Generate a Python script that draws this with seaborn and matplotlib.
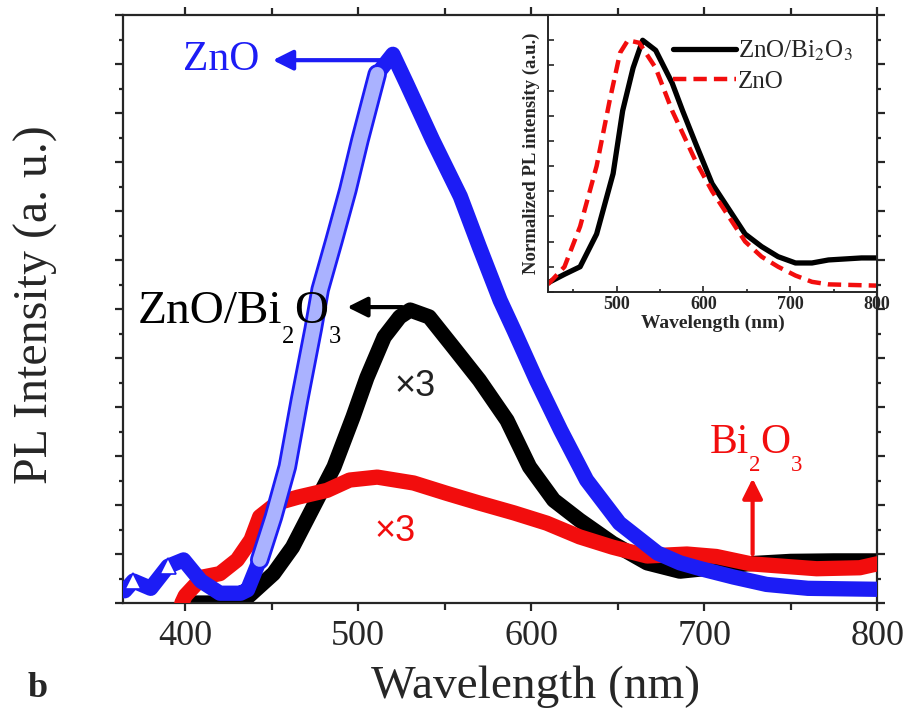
import numpy as np
import matplotlib
matplotlib.use("Agg")
import matplotlib.pyplot as plt
import matplotlib.patheffects as pe
import seaborn as sns
from matplotlib.ticker import MultipleLocator, NullFormatter
from matplotlib.transforms import IdentityTransform

# main panel: PL spectra (ZnO/Bi2O3 and Bi2O3 scaled x3)
zno_nm = [365, 370, 380, 390, 399, 409, 420, 432, 436, 443, 451, 459, 466, 474, 478,
          486, 494, 501, 511, 520, 528, 543, 559, 570, 582, 590, 603, 617, 632, 651,
          673, 686, 698, 717, 736, 760, 800]
zno_pl = [0.25, 0.45, 0.3, 0.75, 0.88, 0.45, 0.2, 0.2, 0.27, 0.88, 1.76, 2.78, 4.14, 5.6, 6.4,
          7.4, 8.43, 9.45, 10.8, 11.2, 10.6, 9.45, 8.3, 7.27, 6.18, 5.57, 4.55, 3.53, 2.51, 1.63,
          1.02, 0.82, 0.7, 0.53, 0.38, 0.3, 0.28]

znobi_nm = [400, 420, 436, 451, 462, 474, 486, 497, 505, 515, 524, 530, 541, 555, 570,
            586, 599, 613, 628, 647, 667, 686, 705, 725, 750, 775, 800]
znobi_pl = [0.0, 0.0, 0.12, 0.6, 1.14, 1.96, 2.78, 3.8, 4.6, 5.43, 5.84, 5.98, 5.84, 5.22, 4.55,
            3.73, 2.78, 2.1, 1.69, 1.22, 0.82, 0.65, 0.72, 0.8, 0.85, 0.86, 0.86]

bi_nm = [398, 400, 410, 420, 430, 438, 443, 453, 465, 482, 495, 511, 532, 551, 570,
         590, 609, 628, 647, 667, 690, 707, 727, 765, 790, 800]
bi_pl = [0.0, 0.15, 0.53, 0.6, 0.88, 1.29, 1.76, 2.04, 2.16, 2.3, 2.51, 2.57, 2.45, 2.24, 2.04,
         1.84, 1.63, 1.35, 1.14, 0.96, 1.0, 0.95, 0.8, 0.7, 0.72, 0.8]

# inset: normalized spectra
ins_bi_nm = [421, 440, 458, 477, 496, 507, 519, 530, 545, 564, 576, 591, 610, 629, 648,
             667, 686, 706, 725, 744, 782, 800]
ins_bi_pl = [0.036, 0.07, 0.10, 0.23, 0.47, 0.72, 0.89, 1.0, 0.96, 0.83, 0.72, 0.59, 0.43, 0.33, 0.23,
             0.18, 0.14, 0.115, 0.115, 0.127, 0.135, 0.135]
ins_zno_nm = [421, 440, 458, 477, 492, 504, 513, 526, 545, 564, 591, 610, 629, 648, 667,
              686, 706, 725, 744, 800]
ins_zno_pl = [0.03, 0.10, 0.26, 0.50, 0.76, 0.95, 1.0, 0.99, 0.89, 0.72, 0.52, 0.40, 0.30, 0.20, 0.14,
              0.10, 0.065, 0.04, 0.03, 0.025]

sns.set_style("ticks")
plt.rcParams['font.family'] = ['Liberation Serif', 'DejaVu Serif']
plt.rcParams['mathtext.fontset'] = 'stix'

BLUE = '#1c1cf5'
RED = '#f20d0d'
DPI = 100

fig = plt.figure(figsize=(9.08, 7.19), dpi=DPI)
ax = fig.add_axes([0.1355, 0.1613, 0.8305, 0.8177])


def chem(ax, x, y, parts, size, color, ha='left', sub_scale=0.52, drop=0.42):
    # formula with real lowered subscripts, placed piece by piece in pixels
    renderer = fig.canvas.get_renderer()
    arts, widths = [], []
    for s, sub in parts:
        t = ax.text(0, 0, s, fontsize=size * sub_scale if sub else size, color=color,
                    transform=IdentityTransform(), ha='left', va='baseline', zorder=8)
        widths.append(t.get_window_extent(renderer).width)
        arts.append(t)
    x0, y0 = ax.transData.transform((x, y))
    total = sum(widths)
    if ha == 'right':
        x0 -= total
    elif ha == 'center':
        x0 -= total / 2
    for t, w, (s, sub) in zip(arts, widths, parts):
        t.set_position((x0, y0 - (drop * size * DPI / 72 if sub else 0)))
        x0 += w


# thick bands like the dense scatter in the original
sns.lineplot(x=znobi_nm, y=znobi_pl, ax=ax, color='black', lw=11, sort=False, zorder=2)
sns.lineplot(x=bi_nm, y=bi_pl, ax=ax, color=RED, lw=11, sort=False, zorder=3)
sns.lineplot(x=zno_nm, y=zno_pl, ax=ax, color=BLUE, lw=11, sort=False, zorder=4,
             marker='^', markevery=[1, 3], ms=11, mfc='white', mec=BLUE, mew=1.2)
rise = [i for i, v in enumerate(zno_nm) if 443 <= v <= 511]
sns.lineplot(x=[zno_nm[i] for i in rise], y=[zno_pl[i] for i in rise], ax=ax,
             color='#aab2ff', lw=10, sort=False, zorder=5,
             path_effects=[pe.Stroke(linewidth=14, foreground=BLUE), pe.Normal()])

ax.set_xlim(364, 800)
ax.set_ylim(0, 12)
ax.xaxis.set_major_locator(MultipleLocator(100))
ax.xaxis.set_minor_locator(MultipleLocator(50))
ax.yaxis.set_major_locator(MultipleLocator(1))
ax.yaxis.set_minor_locator(MultipleLocator(0.5))
ax.yaxis.set_major_formatter(NullFormatter())
ax.tick_params(which='both', direction='out', top=True, right=True, width=1.6)
ax.tick_params(which='major', length=6, labelsize=26, pad=6)
ax.tick_params(which='minor', length=3)
ax.tick_params(axis='x', which='minor', length=5)
for s in ax.spines.values():
    s.set_linewidth(1.6)
ax.set_xlabel('')
ax.set_ylabel('')

fig.text(0.59, 0.045, 'Wavelength (nm)', fontsize=34, ha='center', va='center')
fig.text(0.04, 0.577, 'PL Intensity (a. u.)', fontsize=34.5, rotation=90, ha='center', va='center')
fig.text(0.041, 0.043, 'b', fontsize=26, fontweight='bold', ha='center', va='center')

# annotations
ax.annotate('', xy=(449, 11.08), xytext=(521, 11.08),
            arrowprops=dict(arrowstyle='-|>', lw=3, color=BLUE, mutation_scale=30))
ax.text(443, 11.08, 'ZnO', color=BLUE, fontsize=30, ha='right', va='center')
ax.annotate('', xy=(492, 6.04), xytext=(527, 6.04),
            arrowprops=dict(arrowstyle='-|>', lw=3, color='black', mutation_scale=30), zorder=6)
chem(ax, 490, 5.71, [('ZnO/Bi', False), ('2', True), ('O', False), ('3', True)],
     34, 'black', ha='right')
ax.text(533, 4.41, '×3', color='#222222', fontsize=26, family='Liberation Sans',
        ha='center', va='center', zorder=7)
ax.text(521, 1.45, '×3', color=RED, fontsize=26, family='Liberation Sans',
        ha='center', va='center', zorder=7)
ax.annotate('', xy=(728, 2.6), xytext=(728, 0.94),
            arrowprops=dict(arrowstyle='-|>', lw=3, color=RED, mutation_scale=30), zorder=6)
chem(ax, 730, 3.06, [('Bi', False), ('2', True), ('O', False), ('3', True)],
     30, RED, ha='center', sub_scale=0.55)

# inset
axi = fig.add_axes([0.6035, 0.594, 0.3625, 0.385])
sns.lineplot(x=ins_bi_nm, y=ins_bi_pl, ax=axi, color='black', lw=3.8, sort=False,
             label='ZnO/Bi$_2$O$_3$')
sns.lineplot(x=ins_zno_nm, y=ins_zno_pl, ax=axi, color=RED, lw=3.2, sort=False,
             dashes=(3, 1.6), label='ZnO')
axi.set_xlim(421, 800)
axi.set_ylim(0, 1.1)
axi.xaxis.set_major_locator(MultipleLocator(100))
axi.xaxis.set_minor_locator(MultipleLocator(50))
axi.yaxis.set_major_locator(MultipleLocator(0.1))
axi.yaxis.set_major_formatter(NullFormatter())
axi.tick_params(which='both', direction='in', width=1.2)
axi.tick_params(which='major', length=4, labelsize=13, pad=3)
axi.tick_params(which='minor', length=2.5)
for lab in axi.get_xticklabels():
    lab.set_fontweight('bold')
for s in axi.spines.values():
    s.set_linewidth(1.4)
axi.set_xlabel('Wavelength (nm)', fontsize=14, fontweight='bold', labelpad=1)
axi.set_ylabel('Normalized PL intensity (a.u.)', fontsize=13.5, fontweight='bold', labelpad=3)
axi.legend(loc='upper left', bbox_to_anchor=(0.35, 0.95), frameon=False, fontsize=18,
           handlelength=2.5, handletextpad=0.1, labelspacing=0.3, borderaxespad=0)

fig.savefig('out.png', dpi=DPI)
